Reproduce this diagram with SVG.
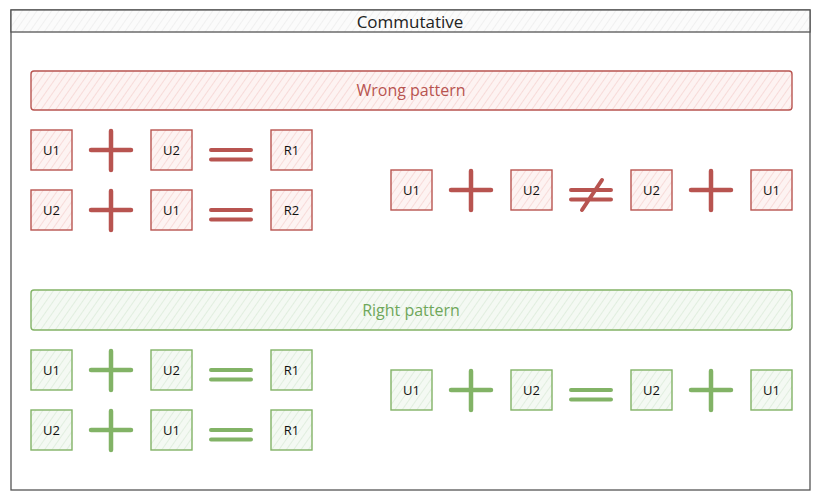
<svg xmlns="http://www.w3.org/2000/svg" width="821" height="501" viewBox="0 0 821 501">
<defs>
<pattern id="hr" patternUnits="userSpaceOnUse" width="6" height="6" patternTransform="rotate(35)">
<rect width="6" height="6" fill="#fdf3f2"/>
<line x1="0" y1="0" x2="0" y2="6" stroke="#f2c4c1" stroke-width="1"/>
</pattern>
<pattern id="hg" patternUnits="userSpaceOnUse" width="6" height="6" patternTransform="rotate(35)">
<rect width="6" height="6" fill="#f4f9f3"/>
<line x1="0" y1="0" x2="0" y2="6" stroke="#cfe3cb" stroke-width="1"/>
</pattern>
<pattern id="hk" patternUnits="userSpaceOnUse" width="6" height="6" patternTransform="rotate(35)">
<rect width="6" height="6" fill="#fbfbfb"/>
<line x1="0" y1="0" x2="0" y2="6" stroke="#e6e6e6" stroke-width="1"/>
</pattern>
</defs>
<style>
text{font-family:"Open Sans","Liberation Sans",sans-serif;text-anchor:middle;dominant-baseline:central}
.r rect{fill:url(#hr);stroke:#b85450;stroke-width:1.4}
.g rect{fill:url(#hg);stroke:#82b366;stroke-width:1.4}
.box text{font-size:13px;fill:#111}
.opr{stroke:#b85450;stroke-width:4.5;stroke-linecap:round;fill:none}
.opg{stroke:#82b366;stroke-width:4.5;stroke-linecap:round;fill:none}
.eq{stroke-width:4}
.bar{font-size:16px}
</style>
<rect width="821" height="501" fill="#ffffff"/>
<g id="frame">
<rect x="11" y="10" width="799" height="480" fill="#ffffff" stroke="#555" stroke-width="1.3"/>
<rect x="11" y="10" width="799" height="22" fill="url(#hk)" stroke="#555" stroke-width="1.3"/>
<text x="410" y="21" style="font-size:17px;fill:#222">Commutative</text>
</g>
<g id="wrong-bar" class="r">
<rect x="31" y="71" width="761" height="39" rx="3"/>
<text class="bar" x="411" y="90" style="fill:#b85450">Wrong pattern</text>
</g>
<g id="right-bar" class="g">
<rect x="31" y="290" width="761" height="40" rx="3"/>
<text class="bar" x="411" y="310" style="fill:#6fa75a">Right pattern</text>
</g>
<!-- red row 1 -->
<g id="r1-u1" class="box r"><rect x="31" y="130" width="41" height="40"/><text x="51.5" y="150">U1</text></g>
<g id="r1-plus"><path class="opr" d="M91 150H131M111 131V170"/></g>
<g id="r1-u2" class="box r"><rect x="151" y="130" width="41" height="40"/><text x="171.5" y="150">U2</text></g>
<g id="r1-eq"><path class="opr eq" d="M211 150H251M211 159.5H251"/></g>
<g id="r1-r1" class="box r"><rect x="271" y="130" width="41" height="40"/><text x="291.5" y="150">R1</text></g>
<!-- red row 2 -->
<g id="r2-u2" class="box r"><rect x="31" y="190" width="41" height="40"/><text x="51.5" y="210">U2</text></g>
<g id="r2-plus"><path class="opr" d="M91 210H131M111 191V230"/></g>
<g id="r2-u1" class="box r"><rect x="151" y="190" width="41" height="40"/><text x="171.5" y="210">U1</text></g>
<g id="r2-eq"><path class="opr eq" d="M211 210H251M211 219.5H251"/></g>
<g id="r2-r2" class="box r"><rect x="271" y="190" width="41" height="40"/><text x="291.5" y="210">R2</text></g>
<!-- red right -->
<g id="r3-u1" class="box r"><rect x="391" y="170" width="41" height="40"/><text x="411.5" y="190">U1</text></g>
<g id="r3-plus"><path class="opr" d="M451 190H491M471 171V210"/></g>
<g id="r3-u2" class="box r"><rect x="511" y="170" width="41" height="40"/><text x="531.5" y="190">U2</text></g>
<g id="r3-neq"><path class="opr eq" d="M571 190H611M571 199.5H611M602 180L582 210"/></g>
<g id="r3-u2b" class="box r"><rect x="631" y="170" width="41" height="40"/><text x="651.5" y="190">U2</text></g>
<g id="r3-plus2"><path class="opr" d="M691 190H731M711 171V210"/></g>
<g id="r3-u1b" class="box r"><rect x="751" y="170" width="41" height="40"/><text x="771.5" y="190">U1</text></g>
<!-- green row 1 -->
<g id="g1-u1" class="box g"><rect x="31" y="350" width="41" height="40"/><text x="51.5" y="370">U1</text></g>
<g id="g1-plus"><path class="opg" d="M91 370H131M111 351V390"/></g>
<g id="g1-u2" class="box g"><rect x="151" y="350" width="41" height="40"/><text x="171.5" y="370">U2</text></g>
<g id="g1-eq"><path class="opg eq" d="M211 370H251M211 379.5H251"/></g>
<g id="g1-r1" class="box g"><rect x="271" y="350" width="41" height="40"/><text x="291.5" y="370">R1</text></g>
<!-- green row 2 -->
<g id="g2-u2" class="box g"><rect x="31" y="410" width="41" height="40"/><text x="51.5" y="430">U2</text></g>
<g id="g2-plus"><path class="opg" d="M91 430H131M111 411V450"/></g>
<g id="g2-u1" class="box g"><rect x="151" y="410" width="41" height="40"/><text x="171.5" y="430">U1</text></g>
<g id="g2-eq"><path class="opg eq" d="M211 430H251M211 439.5H251"/></g>
<g id="g2-r1" class="box g"><rect x="271" y="410" width="41" height="40"/><text x="291.5" y="430">R1</text></g>
<!-- green right -->
<g id="g3-u1" class="box g"><rect x="391" y="370" width="41" height="40"/><text x="411.5" y="390">U1</text></g>
<g id="g3-plus"><path class="opg" d="M451 390H491M471 371V410"/></g>
<g id="g3-u2" class="box g"><rect x="511" y="370" width="41" height="40"/><text x="531.5" y="390">U2</text></g>
<g id="g3-eq"><path class="opg eq" d="M571 390H611M571 399.5H611"/></g>
<g id="g3-u2b" class="box g"><rect x="631" y="370" width="41" height="40"/><text x="651.5" y="390">U2</text></g>
<g id="g3-plus2"><path class="opg" d="M691 390H731M711 371V410"/></g>
<g id="g3-u1b" class="box g"><rect x="751" y="370" width="41" height="40"/><text x="771.5" y="390">U1</text></g>
</svg>
